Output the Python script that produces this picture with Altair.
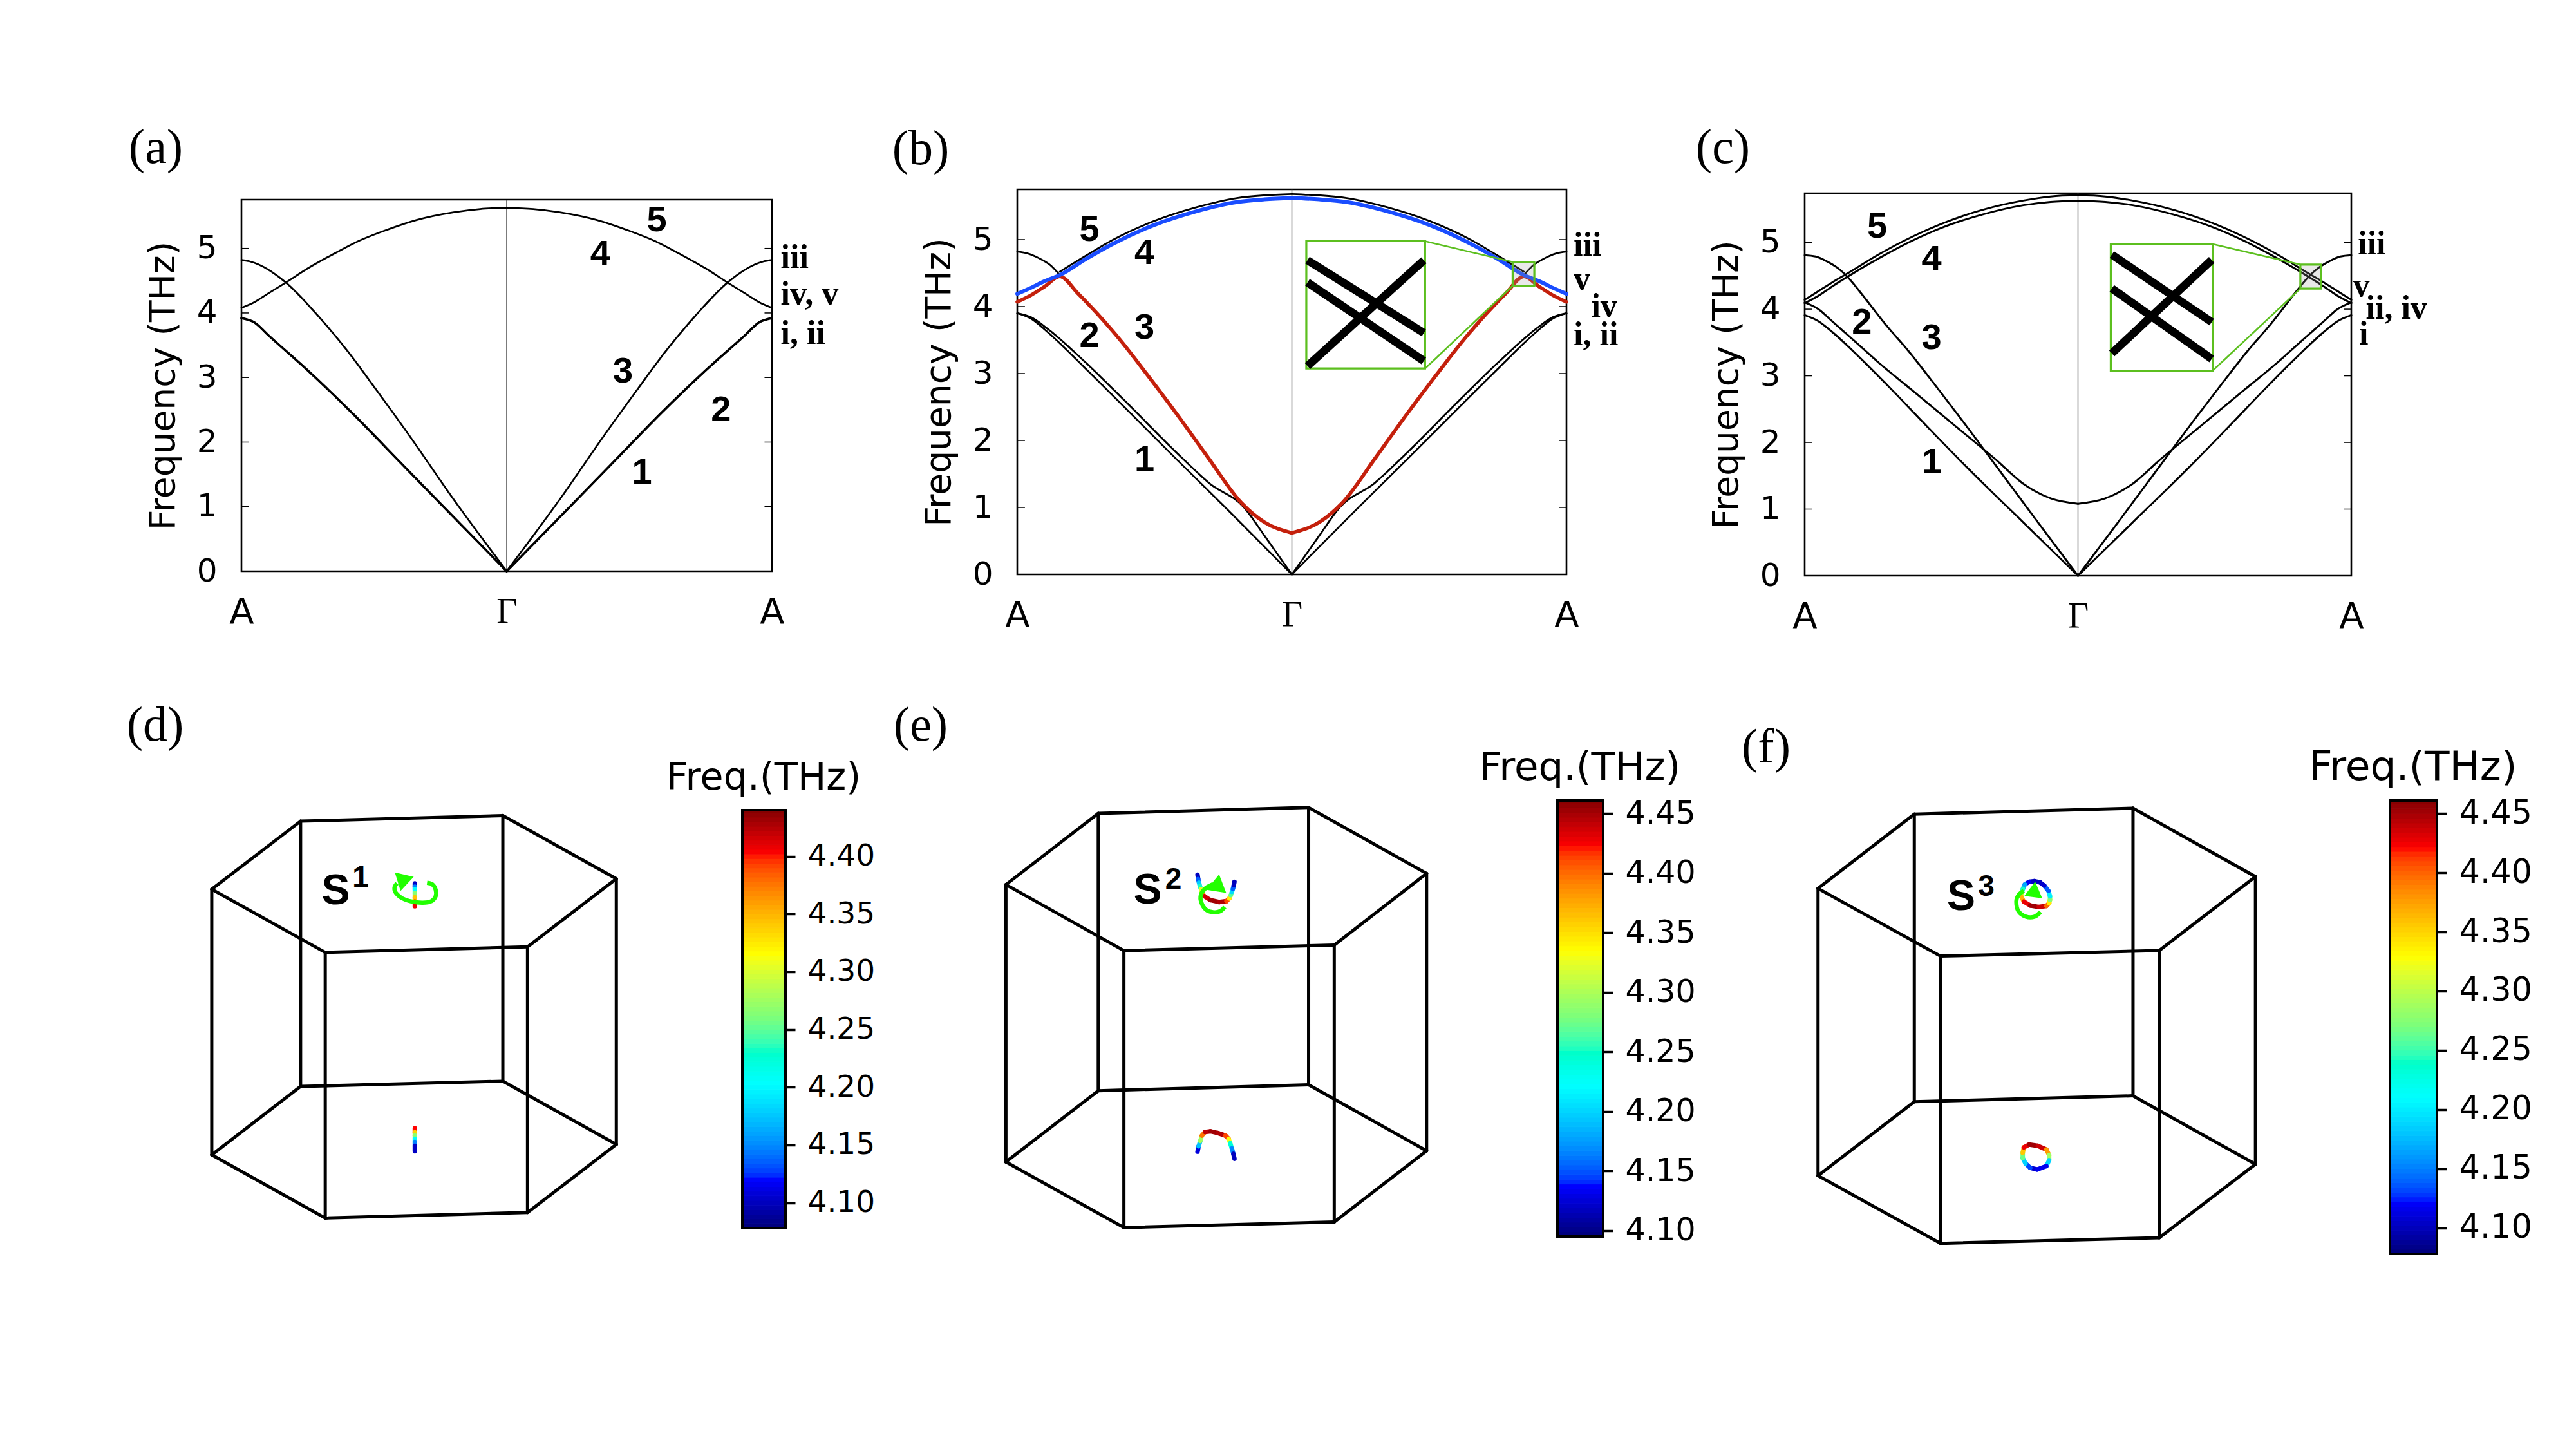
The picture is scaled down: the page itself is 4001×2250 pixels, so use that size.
import altair as alt
import numpy as np
import pandas as pd

W, H = 3985, 2234

# ---------- dispersion read-offs: t = 0 at A, t = 1 at Gamma (mirrored to A on the right) ----------
A_BANDS = {
    "45": ([0, .05, .1, .167, .25, .35, .434, .55, .66, .8, .9, 1],
           [4.08, 4.17, 4.3, 4.47, 4.69, 4.92, 5.10, 5.29, 5.44, 5.56, 5.61, 5.63]),
    "3": ([0, .03, .065, .165, .29, .4, .51, .64, .79, .9, 1], [4.82, 4.80, 4.75, 4.48, 3.95, 3.41, 2.8, 2.06, 1.17, .55, 0]),
    "12": ([0, .05, .1, .25, .42, .6, .79, 1], [3.92, 3.85, 3.66, 3.11, 2.44, 1.68, .88, 0]),
}
B_BLACK = {
    "5": ([.155, .25, .35, .5, .65, .8, .9, 1], [4.52, 4.76, 5.0, 5.28, 5.48, 5.62, 5.66, 5.68]),
    "iii": ([0, .04, .08, .12, .155], [4.82, 4.79, 4.72, 4.62, 4.47]),
    "1": ([0, .05, .11, .245, .39, .58, .77, 1], [3.9, 3.82, 3.62, 3.09, 2.5, 1.72, .95, 0]),
    "2": ([0, .05, .11, .245, .39, .58, .7, .826, .9, 1], [3.9, 3.84, 3.67, 3.18, 2.6, 1.82, 1.36, 1.0, .58, 0]),
}
B_BLUE_T = [0, .05, .1, .155, .25, .35, .5, .65, .8, .9, 1]
B_BLUE_F = [4.19, 4.28, 4.38, 4.47, 4.71, 4.94, 5.22, 5.42, 5.56, 5.60, 5.62]
B_RED_T = [0, .05, .1, .155, .22, .29, .375, .47, .58, .694, .816, .9, 1]
B_RED_F = [4.07, 4.17, 4.3, 4.45, 4.2, 3.9, 3.5, 3.0, 2.4, 1.75, 1.07, .78, .62]
C_BANDS = {
    "5": ([0, .05, .1, .158, .27, .4, .5, .65, .8, .9, 1], [4.14, 4.27, 4.4, 4.54, 4.82, 5.1, 5.28, 5.49, 5.63, 5.69, 5.71]),
    "4": ([0, .05, .1, .158, .27, .4, .5, .65, .8, .9, 1], [4.09, 4.2, 4.34, 4.49, 4.76, 5.04, 5.22, 5.42, 5.56, 5.61, 5.63]),
    "3": ([0, .04, .08, .12, .16, .21, .29, .38, .47, .58, .7, .85, 1],
          [4.81, 4.79, 4.72, 4.62, 4.47, 4.22, 3.8, 3.37, 2.9, 2.31, 1.65, .82, 0]),
    "2": ([0, .05, .1, .18, .27, .4, .55, .7, .8, .9, 1], [4.10, 4.0, 3.82, 3.53, 3.2, 2.76, 2.25, 1.74, 1.38, 1.16, 1.08]),
    "1": ([0, .05, .1, .2, .3, .45, .6, .8, 1], [3.91, 3.82, 3.66, 3.28, 2.87, 2.23, 1.6, .8, 0]),
}

# band-number and A-point labels, in panel units
A_NUM = (["5", "4", "3", "2", "1"], [1.566, 1.353, 1.438, 1.808, 1.51], [5.44, 4.91, 3.09, 2.49, 1.53])
B_NUM = (["5", "4", "3", "2", "1"], [.263, .463, .463, .263, .463], [5.14, 4.80, 3.68, 3.56, 1.71])
C_NUM = (["5", "4", "3", "2", "1"], [.265, .464, .464, .209, .464], [5.24, 4.74, 3.57, 3.8, 1.70])
A_SYM = (["iii", "iv, v", "i, ii"], [2.033, 2.033, 2.033], [4.86, 4.29, 3.68])
B_SYM = (["iii", "v", "iv", "i, ii"], [2.026, 2.026, 2.09, 2.026], [4.91, 4.40, 4.0, 3.58])
C_SYM = (["iii", "v", "ii, iv", "i"], [2.024, 2.006, 2.053, 2.028], [4.98, 4.35, 4.01, 3.62])

# zoom windows (x0,x1,f0,f1), inset frames in panel units, and inset line ends
B_WIN = (1.804, 1.883, 4.31, 4.665)
B_INSET = (1.0526, 1.485, 3.075, 4.976)
B_INLINES = [(4.317, 4.612), (4.612, 4.409), (4.55, 4.331)]
C_WIN = (1.8136, 1.889, 4.309, 4.669)
C_INSET = (1.12, 1.493, 3.078, 4.976)
C_INLINES = [(4.358, 4.624), (4.639, 4.447), (4.543, 4.342)]

# ---------- Brillouin-zone wireframes, read in image units ----------
HEX_D = dict(tx=[210, 390, 800, 1030, 850, 440], ty=[555, 360, 344, 525, 720, 736],
             bx=[210, 390, 800, 1030, 850, 440], by=[1316, 1120, 1105, 1286, 1481, 1497],
             ox=168, oy=1080, sx=1.305, sy=1.845)
HEX_E = dict(tx=[232, 405, 799, 1020, 847, 453], ty=[510, 318, 302, 480, 673, 688],
             bx=[232, 405, 799, 1020, 847, 453], by=[1258, 1066, 1050, 1228, 1420, 1435],
             ox=1370, oy=1080, sx=1.206, sy=1.737)
HEX_F = dict(tx=[149, 329, 738, 967, 787, 378], ty=[487, 286, 270, 455, 655, 670],
             bx=[149, 329, 738, 967, 787, 378], by=[1264, 1064, 1048, 1233, 1432, 1447],
             ox=2700, oy=1100, sx=1.204, sy=1.742)

# nodal curves (x, y, frequency) in crop units at 3x, with the crop origin
D_UP = (560, 1330, [253] * 7, [125, 140, 152, 170, 190, 210, 232], [4.08, 4.12, 4.17, 4.23, 4.30, 4.38, 4.43])
D_LO = (580, 1720, [193] * 7, [95, 115, 130, 145, 160, 178, 203], [4.43, 4.37, 4.30, 4.23, 4.17, 4.12, 4.08])
E_UP = (1830, 1330,
        [90, 93, 97, 101, 106, 112, 122, 150, 190, 225, 238, 245, 250, 255, 259, 262],
        [85, 105, 122, 138, 152, 170, 185, 203, 212, 208, 195, 180, 165, 150, 133, 118],
        [4.10, 4.13, 4.17, 4.22, 4.28, 4.36, 4.42, 4.45, 4.45, 4.44, 4.38, 4.30, 4.23, 4.17, 4.13, 4.10])
E_LO = (1820, 1720,
        [120, 125, 133, 140, 155, 180, 215, 250, 265, 272, 280, 287, 292],
        [205, 180, 155, 130, 113, 110, 118, 130, 145, 165, 190, 215, 238],
        [4.10, 4.15, 4.23, 4.36, 4.43, 4.45, 4.45, 4.44, 4.38, 4.28, 4.20, 4.13, 4.10])
F_UP = (3110, 1340,
        [150, 125, 105, 96, 90, 90, 100, 130, 170, 205, 218, 222, 222, 215, 195, 175, 150],
        [85, 88, 100, 120, 140, 160, 180, 198, 205, 200, 188, 172, 155, 130, 105, 90, 85],
        [4.10, 4.10, 4.13, 4.20, 4.28, 4.33, 4.40, 4.45, 4.45, 4.42, 4.37, 4.30, 4.24, 4.16, 4.11, 4.10, 4.10])
F_LO = (3110, 1740,
        [162, 130, 108, 95, 95, 100, 125, 165, 205, 218, 218, 205, 162],
        [228, 220, 200, 175, 150, 125, 112, 118, 135, 160, 185, 212, 228],
        [4.10, 4.11, 4.15, 4.22, 4.31, 4.40, 4.45, 4.45, 4.42, 4.33, 4.24, 4.13, 4.10])

# green rotation arcs in crop units and arrow heads (x, y, angle, size)
D_ARC = (560, 1330, [310, 335, 350, 350, 330, 290, 240, 195, 165, 158, 170], [122, 130, 155, 185, 208, 215, 210, 195, 170, 145, 125])
E_ARC = (1830, 1330, [217, 195, 165, 130, 108, 105, 125, 160], [235, 255, 260, 248, 215, 180, 150, 130])
F_ARC = (3110, 1340, [178, 150, 110, 75, 65, 75, 100], [228, 250, 250, 225, 180, 150, 130])
D_HEAD = (626, 1366.5, 313, 900)
E_HEAD = (1890.7, 1375.3, 9, 950)
F_HEAD = (3159, 1385, 7, 780)

# colour bars
JET_POS = [0, .11, .34, .5, .65, .89, 1]
JET_COL = ["#00007f", "#0000ff", "#00ffff", "#7dff7a", "#ffff00", "#ff0000", "#7f0000"]
BAR_D = (4.078, 4.44, [4.10, 4.15, 4.20, 4.25, 4.30, 4.35, 4.40])
BAR_E = (4.095, 4.461, [4.10, 4.15, 4.20, 4.25, 4.30, 4.35, 4.40, 4.45])
BAR_F = (4.078, 4.461, [4.10, 4.15, 4.20, 4.25, 4.30, 4.35, 4.40, 4.45])

layers = []
PX = alt.Scale(domain=[0, 4001], range=[-8, 3993], nice=False, zero=False)
PY = alt.Scale(domain=[0, 2250], range=[-8, 2242], nice=False, zero=False)


def page_enc(**kw):
    return dict(x=alt.X("x:Q", scale=PX, axis=None), y=alt.Y("y:Q", scale=PY, axis=None), **kw)


def page_text(text, x, y, font, size, weight="normal"):
    df = pd.DataFrame({"x": [x], "y": [y], "t": [text]})
    layers.append(alt.Chart(df).mark_text(font=font, fontSize=size, fontWeight=weight, color="black",
                                          align="center", baseline="middle")
                  .encode(text="t:N", **page_enc()))


def panel(box, ymax, letter, letter_xy, num, sym, sets, win=None, inset=None, inlines=None):
    x0, x1, ytop, ybot = box
    xs = alt.Scale(domain=[0, 2], range=[x0 - 8, x1 - 8], nice=False, zero=False)
    ys = alt.Scale(domain=[0, ymax], range=[ybot - 8, ytop - 8], nice=False, zero=False)
    X = lambda f="x": alt.X(f"{f}:Q", scale=xs, axis=None)
    Y = lambda f="y": alt.Y(f"{f}:Q", scale=ys, axis=None)
    # frame plus real axes
    fr = pd.DataFrame({"x": [0], "x2": [2], "y": [0], "y2": [ymax]})
    layers.append(alt.Chart(fr).mark_rect(fillOpacity=0, stroke="black", strokeWidth=2.6).encode(
        x=alt.X("x:Q", scale=xs, title=None, axis=alt.Axis(
            orient="bottom", offset=ybot - 8 - H, values=[0, 1, 2], labelExpr="datum.value == 1 ? 'Γ' : 'A'",
            labelFont=alt.condition("datum.value == 1", alt.value("Liberation Serif"), alt.value("DejaVu Sans")),
            labelFontSize=56, labelColor="black", labelPadding=36, ticks=False, domain=False, grid=False,
            labelFlush=False, labelOverlap=False, labelAngle=0)),
        x2="x2:Q",
        y=alt.Y("y:Q", scale=ys, title="Frequency (THz)", axis=alt.Axis(
            orient="left", offset=-(x0 - 8), values=[0, 1, 2, 3, 4, 5], format="d",
            labelFont="DejaVu Sans", labelFontSize=50, labelColor="black", labelPadding=38, ticks=False,
            domain=False, grid=False, labelFlush=False, labelOverlap=False,
            titleFont="DejaVu Sans", titleFontSize=55, titleFontWeight="normal", titleColor="black", titlePadding=23)),
        y2="y2:Q"))
    # inside tick marks and the Gamma line
    tk = [1, 2, 3, 4, 5]
    td = pd.DataFrame({"x": [0] * 5 + [1.972] * 5, "x2": [.028] * 5 + [2] * 5, "y": tk + tk})
    layers.append(alt.Chart(td).mark_rule(color="black", strokeWidth=1.5).encode(x=X(), x2="x2:Q", y=Y()))
    gd = pd.DataFrame({"x": [1], "y": [0], "y2": [ymax]})
    layers.append(alt.Chart(gd).mark_rule(color="#444444", strokeWidth=1.4).encode(x=X(), y=Y(), y2="y2:Q"))
    # bands
    for bands, color, sw in sets:
        rows = []
        for name, (t, f) in bands.items():
            for ti, fi in zip(t, f):
                rows.append({"band": name, "side": "L", "x": ti, "y": fi})
                rows.append({"band": name, "side": "R", "x": 2 - ti, "y": fi})
        df = pd.DataFrame(rows)
        layers.append(alt.Chart(df).mark_line(color=color, strokeWidth=sw, interpolate="monotone", strokeCap="round")
                      .encode(x=X(), y=Y(), detail=["band:N", "side:N"]))
    # inset
    if win is not None:
        wx0, wx1, wf0, wf1 = win
        ix0, ix1, if0, if1 = inset
        green = "#5cbf1f"
        px = lambda v: x0 + (x1 - x0) * v / 2
        py = lambda v: ybot - (ybot - ytop) * v / ymax
        ins = alt.Chart(pd.DataFrame({"x": [ix0], "x2": [ix1], "y": [if0], "y2": [if1]})).mark_rect(
            fill="white", stroke=green, strokeWidth=3.2).encode(x=X(), x2="x2:Q", y=Y(), y2="y2:Q")
        layers.append(ins)
        wnd = alt.Chart(pd.DataFrame({"x": [wx0], "x2": [wx1], "y": [wf0], "y2": [wf1]})).mark_rect(
            fill="#999999", fillOpacity=.22, stroke=green, strokeWidth=3.2).encode(x=X(), x2="x2:Q", y=Y(), y2="y2:Q")
        layers.append(wnd)
        con = pd.DataFrame({"x": [ix1, ix1], "x2": [wx0, wx0], "y": [if1, if0], "y2": [wf1, wf0]})
        layers.append(alt.Chart(con).mark_rule(color=green, strokeWidth=2.6).encode(x=X(), x2="x2:Q", y=Y(), y2="y2:Q"))
        sx_i = alt.Scale(domain=[wx0, wx1], range=[px(ix0) - 8, px(ix1) - 8], nice=False, zero=False)
        sy_i = alt.Scale(domain=[wf0, wf1], range=[py(if0) - 8, py(if1) - 8], nice=False, zero=False)
        span = wx1 - wx0
        iw = pd.DataFrame({"x": [wx0 + .01 * span] * 3, "x2": [wx0 + .99 * span] * 3,
                           "y": [a for a, b in inlines], "y2": [b for a, b in inlines]})
        layers.append(alt.Chart(iw).mark_rule(color="black", strokeWidth=12.5).encode(
            x=alt.X("x:Q", scale=sx_i, axis=None), x2="x2:Q",
            y=alt.Y("y:Q", scale=sy_i, axis=None), y2="y2:Q"))
    # labels
    nd = pd.DataFrame({"t": num[0], "x": num[1], "y": num[2]})
    layers.append(alt.Chart(nd).mark_text(font="Liberation Sans", fontWeight="bold", fontSize=56, color="black",
                                          align="center", baseline="middle").encode(x=X(), y=Y(), text="t:N"))
    sd = pd.DataFrame({"t": sym[0], "x": sym[1], "y": sym[2]})
    layers.append(alt.Chart(sd).mark_text(font="Liberation Serif", fontWeight="bold", fontSize=52, color="black",
                                          align="left", baseline="middle").encode(x=X(), y=Y(), text="t:N"))
    page_text(letter, letter_xy[0], letter_xy[1], "Liberation Serif", 76)


panel((375, 1199, 310, 887), 5.755, "(a)", (242, 230), A_NUM, A_SYM,
      [({k: v for k, v in A_BANDS.items()}, "black", 2.8), ({"12b": A_BANDS["12"]}, "black", 3.6)])
panel((1580, 2433, 294, 892), 5.75, "(b)", (1430, 232), B_NUM, B_SYM,
      [(B_BLACK, "black", 2.8), ({"r": (B_RED_T, B_RED_F)}, "#c4200c", 5.6), ({"b": (B_BLUE_T, B_BLUE_F)}, "#1a4dff", 6)],
      B_WIN, B_INSET, B_INLINES)
panel((2803, 3652, 300, 894), 5.74, "(c)", (2676, 230), C_NUM, C_SYM, [(C_BANDS, "black", 3)],
      C_WIN, C_INSET, C_INLINES)


def wire(h):
    X = lambda v: h["ox"] + v / h["sx"]
    Y = lambda v: h["oy"] + v / h["sy"]
    rows = []
    for i in range(6):
        j = (i + 1) % 6
        rows.append((X(h["tx"][i]), Y(h["ty"][i]), X(h["tx"][j]), Y(h["ty"][j])))
        rows.append((X(h["bx"][i]), Y(h["by"][i]), X(h["bx"][j]), Y(h["by"][j])))
        rows.append((X(h["tx"][i]), Y(h["ty"][i]), X(h["bx"][i]), Y(h["by"][i])))
    df = pd.DataFrame(rows, columns=["x", "y", "x2", "y2"])
    layers.append(alt.Chart(df).mark_rule(color="black", strokeWidth=5, strokeCap="round")
                  .encode(x2="x2:Q", y2="y2:Q", **page_enc()))


def stops(lo, hi):
    return [lo + (hi - lo) * p for p in JET_POS]


def curve(c, lo, hi, width=7):
    ox, oy, cx, cy, f = c
    X = [ox + v / 3 for v in cx]
    Y = [oy + v / 3 for v in cy]
    df = pd.DataFrame({"x": X[:-1], "y": Y[:-1], "x2": X[1:], "y2": Y[1:],
                       "f": [(a + b) / 2 for a, b in zip(f[:-1], f[1:])]})
    layers.append(alt.Chart(df).mark_rule(strokeWidth=width, strokeCap="round").encode(
        x2="x2:Q", y2="y2:Q",
        color=alt.Color("f:Q", scale=alt.Scale(domain=stops(lo, hi), range=JET_COL), legend=None),
        **page_enc()))


def arrow(arc, head):
    ox, oy, cx, cy = arc
    df = pd.DataFrame({"x": [ox + v / 3 for v in cx], "y": [oy + v / 3 for v in cy], "i": range(len(cx))})
    layers.append(alt.Chart(df).mark_line(color="#22ff00", strokeWidth=6.5, interpolate="cardinal").encode(
        order="i:Q", **page_enc()))
    hd = pd.DataFrame({"x": [head[0]], "y": [head[1]]})
    layers.append(alt.Chart(hd).mark_point(shape="triangle", filled=True, color="#22ff00", opacity=1,
                                           size=head[3], angle=head[2]).encode(**page_enc()))


def colorbar(bar, box, label_size):
    lo, hi, ticks = bar
    x0, x1, ytop, ybot = box
    xs = alt.Scale(domain=[0, 1], range=[x0 - 8, x1 - 8], nice=False, zero=False)
    ys = alt.Scale(domain=[lo, hi], range=[ybot - 8, ytop - 8], nice=False, zero=False)
    edges = np.arange(lo, hi, 0.004)
    df = pd.DataFrame({"x": 0, "x2": 1, "f": edges, "f2": np.minimum(edges + 0.004, hi)})
    layers.append(alt.Chart(df).mark_rect(strokeWidth=1).encode(
        x=alt.X("x:Q", scale=xs, axis=None), x2="x2:Q",
        y=alt.Y("f:Q", scale=ys, axis=None), y2="f2:Q",
        color=alt.Color("f:Q", scale=alt.Scale(domain=stops(lo, hi), range=JET_COL), legend=None),
        stroke=alt.Color("f:Q", scale=alt.Scale(domain=stops(lo, hi), range=JET_COL), legend=None)))
    fr = pd.DataFrame({"x": [0], "x2": [1], "y": [lo], "y2": [hi]})
    layers.append(alt.Chart(fr).mark_rect(fillOpacity=0, stroke="black", strokeWidth=4).encode(
        x=alt.X("x:Q", scale=xs, axis=None), x2="x2:Q",
        y=alt.Y("y:Q", scale=ys, title=None, axis=alt.Axis(
            orient="right", offset=(x1 - 8) - W, values=ticks, format=".2f", domain=False, grid=False,
            tickColor="black", tickSize=15, tickWidth=3.5, labelPadding=19, labelFont="DejaVu Sans",
            labelFontSize=label_size, labelColor="black", labelFlush=False, labelOverlap=False)),
        y2="y2:Q"))


# (d)
wire(HEX_D); curve(D_UP, BAR_D[0], BAR_D[1]); curve(D_LO, BAR_D[0], BAR_D[1]); arrow(D_ARC, D_HEAD)
colorbar(BAR_D, (1153, 1220, 1258, 1907), 47)
page_text("(d)", 241, 1127, "Liberation Serif", 76)
page_text("Freq.(THz)", 1186, 1208, "DejaVu Sans", 59)
page_text("S", 521.5, 1383.5, "Liberation Sans", 66, "bold")
page_text("1", 560, 1363, "Liberation Sans", 46, "bold")
# (e)
wire(HEX_E); curve(E_UP, BAR_E[0], BAR_E[1]); curve(E_LO, BAR_E[0], BAR_E[1]); arrow(E_ARC, E_HEAD)
colorbar(BAR_E, (2419, 2490, 1243, 1920), 49)
page_text("(e)", 1430, 1127, "Liberation Serif", 76)
page_text("Freq.(THz)", 2454, 1192.5, "DejaVu Sans", 61)
page_text("S", 1782.5, 1383, "Liberation Sans", 66, "bold")
page_text("2", 1822.5, 1365.6, "Liberation Sans", 46, "bold")
# (f)
wire(HEX_F); curve(F_UP, BAR_F[0], BAR_F[1]); curve(F_LO, BAR_F[0], BAR_F[1]); arrow(F_ARC, F_HEAD)
colorbar(BAR_F, (3712, 3785, 1243, 1947), 51)
page_text("(f)", 2743, 1161, "Liberation Serif", 76)
page_text("Freq.(THz)", 3748, 1192, "DejaVu Sans", 63)
page_text("S", 3046, 1392.5, "Liberation Sans", 66, "bold")
page_text("3", 3085, 1377, "Liberation Sans", 46, "bold")

chart = alt.layer(*layers).resolve_scale(
    x="independent", y="independent", color="independent", stroke="independent"
).properties(
    width=W, height=H, padding=0, background="white", autosize=alt.AutoSizeParams(type="none")
).configure_view(strokeWidth=0)

chart.save("out.html", embed_options={"renderer": "svg", "actions": False})
